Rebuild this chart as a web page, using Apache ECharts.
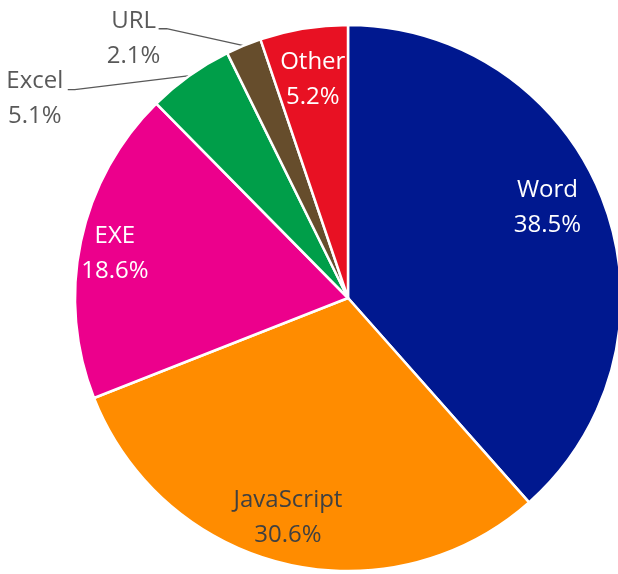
<!DOCTYPE html>
<html>
<head>
<meta charset="utf-8">
<script src="https://cdn.jsdelivr.net/npm/echarts@6/dist/echarts.min.js"></script>
<style>html,body{margin:0;padding:0;background:#fff;}#c{width:618px;height:574px;}</style>
</head>
<body>
<div id="c"></div>
<script>
const categories = ['Word', 'JavaScript', 'EXE', 'Excel', 'URL', 'Other'];
const values = [38.5, 30.6, 18.6, 5.1, 2.1, 5.2];
const colors = ['#00188F', '#FF8C00', '#EC008C', '#009E49', '#664D2C', '#E81123'];
const labelColors = ['#ffffff', '#404040', '#ffffff', '#595959', '#595959', '#ffffff'];
const outsideLabels = ['Excel', 'URL'];

const chart = echarts.init(document.getElementById('c'));
const FONT = '"Open Sans", "Noto Sans", sans-serif';
const center = [348, 298];
const R = 273;
// small label nudges (style only)
const nudges = { Word: [-9, -11], JavaScript: [-8, 3], EXE: [-15, 2], Other: [1, 2] };

const mainData = categories.map((n, i) => ({
  name: n, value: values[i], itemStyle: { color: colors[i] }
}));
const overlayData = categories.map((n, i) => {
  const out = outsideLabels.includes(n);
  return {
    name: n, value: values[i],
    label: { position: out ? 'outside' : 'inside', color: labelColors[i] },
    labelLine: { show: out }
  };
});

chart.setOption({
  animation: false,
  backgroundColor: '#fff',
  series: [{
    type: 'pie', center: center, radius: [0, R], startAngle: 90, clockwise: true,
    silent: true,
    itemStyle: { borderColor: '#fff', borderWidth: 2.5 },
    label: { show: false }, labelLine: { show: false },
    data: mainData
  }, {
    type: 'pie', center: center, radius: [167, R], startAngle: 90, clockwise: true,
    silent: true,
    itemStyle: { color: 'rgba(0,0,0,0)', borderWidth: 0 },
    label: {
      show: true, formatter: '{b}\n{c}%', fontFamily: FONT, fontSize: 24,
      lineHeight: 35, align: 'center'
    },
    labelLine: { show: false, lineStyle: { color: '#595959', width: 1.3 }, length: 10, length2: 10 },
    labelLayout: function (p) {
      const name = categories[p.dataIndex];
      if (!outsideLabels.includes(name)) {
        const d = nudges[name] || [0, 0];
        return { dx: d[0], dy: d[1] };
      }
      if (!p.labelLinePoints) return {};
      const e = p.labelLinePoints[0];
      if (name === 'Excel') {
        return {
          x: e[0] - 155, y: e[1] + 23, align: 'center', verticalAlign: 'middle',
          labelLinePoints: [e, [e[0] - 115, e[1] + 14], [e[0] - 122, e[1] + 14]]
        };
      }
      return {
        x: e[0] - 110, y: e[1] - 7, align: 'center', verticalAlign: 'middle',
        labelLinePoints: [e, [e[0] - 77, e[1] - 17], [e[0] - 85, e[1] - 17]]
      };
    },
    data: overlayData
  }]
});
</script>
</body>
</html>
